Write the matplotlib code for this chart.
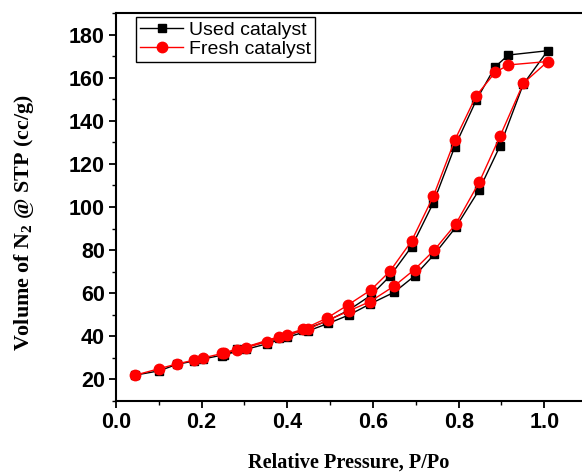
import matplotlib
matplotlib.use("Agg")
import matplotlib.pyplot as plt
from matplotlib.ticker import MultipleLocator

# Used catalyst (black squares): adsorption then desorption branch
used_ads_x = [0.045, 0.101, 0.142, 0.181, 0.204, 0.253, 0.304, 0.352, 0.399, 0.448,
              0.496, 0.545, 0.593, 0.650, 0.697, 0.743, 0.793, 0.848, 0.897, 0.951, 1.008]
used_ads_y = [22.0, 24.0, 27.0, 28.5, 29.5, 31.5, 34.0, 36.5, 39.5, 42.5,
              46.0, 50.0, 55.0, 60.5, 68.0, 78.0, 90.5, 108.0, 128.5, 157.0, 172.5]
used_des_x = [0.916, 0.885, 0.841, 0.791, 0.741, 0.690, 0.640, 0.595, 0.542, 0.492,
              0.437, 0.381, 0.283, 0.247]
used_des_y = [170.5, 165.0, 149.5, 128.0, 102.0, 81.5, 68.0, 59.0, 52.0, 47.0,
              43.0, 39.0, 34.0, 31.0]

# Fresh catalyst (red circles)
fresh_ads_x = used_ads_x
fresh_ads_y = [22.0, 25.0, 27.2, 28.9, 30.0, 32.3, 34.8, 37.5, 40.6, 43.3,
               47.6, 51.9, 56.1, 63.4, 71.0, 80.0, 92.0, 111.5, 133.0, 157.4, 167.5]
fresh_des_x = used_des_x
fresh_des_y = [165.9, 162.4, 151.6, 131.0, 105.0, 84.2, 70.3, 61.5, 54.6, 48.4,
               43.3, 39.9, 33.8, 32.2]

labels = ["Used catalyst", "Fresh catalyst"]
xticks = [0.0, 0.2, 0.4, 0.6, 0.8, 1.0]
yticks = [20, 40, 60, 80, 100, 120, 140, 160, 180]

plt.rcParams['mathtext.fontset'] = 'custom'
plt.rcParams['mathtext.rm'] = 'Liberation Serif:bold'
plt.rcParams['mathtext.it'] = 'Liberation Serif:bold'
plt.rcParams['mathtext.bf'] = 'Liberation Serif:bold'

fig = plt.figure(figsize=(5.82, 4.74), dpi=100)
ax = fig.add_axes([116/582, 1 - 401/474, 1 - 116/582, (401 - 13)/474])

ux = used_ads_x + used_des_x
uy = used_ads_y + used_des_y
fx = fresh_ads_x + fresh_des_x
fy = fresh_ads_y + fresh_des_y

ax.plot(ux, uy, color='black', lw=1.0, marker='s', ms=6, mfc='black', mec='black',
        label=labels[0], zorder=3)
ax.plot(fx, fy, color='red', lw=1.0, marker='o', ms=7.5, mfc='red', mec='red',
        label=labels[1], zorder=4)

ax.set_xlim(0, 1.088)
ax.set_ylim(10, 190)
ax.set_xticks(xticks)
ax.set_yticks(yticks)
ax.set_xticklabels([f"{v:.1f}" for v in xticks])
ax.xaxis.set_minor_locator(MultipleLocator(0.1))
ax.yaxis.set_minor_locator(MultipleLocator(10))
ax.spines['right'].set_visible(False)
for s in ['left', 'bottom', 'top']:
    ax.spines[s].set_linewidth(1.5)
ax.tick_params(which='major', direction='out', length=5, width=1.3, top=False, right=False,
               pad=3)
ax.tick_params(which='minor', direction='out', length=3, width=1.0, top=False, right=False)
for lab in ax.get_xticklabels() + ax.get_yticklabels():
    lab.set_fontfamily('Liberation Sans')
    lab.set_fontweight('bold')
    lab.set_fontsize(15.5)

ax.set_xlabel("Relative Pressure, P/Po", fontfamily='Liberation Serif', fontweight='bold',
              fontsize=14.6, labelpad=14)
ax.set_ylabel("Volume of N$_2$ @ STP (cc/g)", fontfamily='Liberation Serif',
              fontweight='bold', fontsize=15.8, va='center', ha='center')
ax.yaxis.set_label_coords((24 - 116) / 466, (401 - 223) / 388)

leg = ax.legend(loc='upper left', bbox_to_anchor=(0.039, 0.995), frameon=True, fancybox=False,
                edgecolor='black', framealpha=1, prop={'family': 'Liberation Sans', 'size': 14.0},
                handlelength=2.2, handletextpad=0.3, borderpad=0.22, labelspacing=0.08,
                borderaxespad=0.1)
leg.get_frame().set_linewidth(1.0)

fig.savefig("out.png", dpi=100)
